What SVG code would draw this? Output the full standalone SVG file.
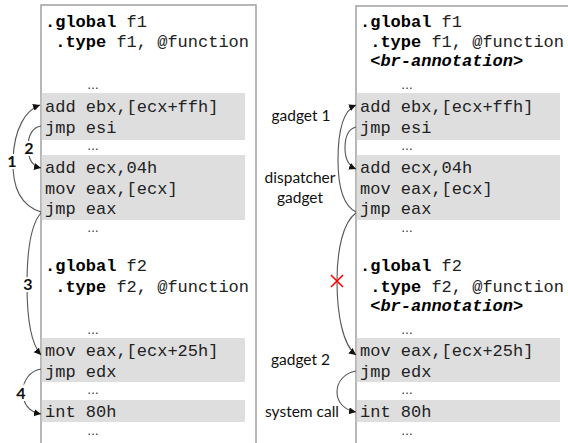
<svg xmlns="http://www.w3.org/2000/svg" width="568" height="443" viewBox="0 0 568 443">
<style>
.panel{fill:#fff;stroke:#a0a0a0;stroke-width:1.5}
.blk{fill:#dedede}
.code{font-family:"Liberation Mono","Courier New",monospace;font-size:17px;fill:#222}
.dots{font-family:"Liberation Sans",Arial,sans-serif;font-size:12px;fill:#222}
.b{font-weight:bold;fill:#000}
.bi{font-weight:bold;font-style:italic;fill:#000}
.lbl{font-family:Lato,"Open Sans","Liberation Sans",sans-serif;font-size:15.5px;fill:#111;text-anchor:middle}
.num{font-family:Lato,"Open Sans","Liberation Sans",sans-serif;font-size:16px;font-weight:bold;fill:#111;text-anchor:middle;stroke:#fff;stroke-width:4;paint-order:stroke}
.arc{fill:none;stroke:#555;stroke-width:1.1}
.x{stroke:#f00;stroke-width:1.6}
</style>
<defs>
<marker id="ah" markerUnits="userSpaceOnUse" markerWidth="8" markerHeight="8" refX="7" refY="3.5" orient="auto">
<path d="M0,0 L7,3.5 L0,7 z" fill="#111"/>
</marker>
</defs>

<g id="left-panel">
<rect class="panel" x="41" y="5" width="215" height="460"/>
<rect class="blk" x="41.75" y="93" width="203.25" height="47"/>
<rect class="blk" x="41.75" y="155" width="203.25" height="65"/>
<rect class="blk" x="41.75" y="338" width="203.25" height="44"/>
<rect class="blk" x="41.75" y="400" width="203.25" height="22"/>
<text class="code" x="45" y="27"><tspan class="b">.global</tspan> f1</text>
<text class="code" x="55.2" y="47"><tspan class="b">.type</tspan> f1, @function</text>
<text class="dots" x="87" y="89">…</text>
<text class="code" x="45" y="112">add ebx,[ecx+ffh]</text>
<text class="code" x="45" y="133">jmp esi</text>
<text class="dots" x="87" y="150">…</text>
<text class="code" x="45" y="173">add ecx,04h</text>
<text class="code" x="45" y="194">mov eax,[ecx]</text>
<text class="code" x="45" y="214">jmp eax</text>
<text class="dots" x="87" y="232">…</text>
<text class="code" x="45" y="271"><tspan class="b">.global</tspan> f2</text>
<text class="code" x="55.2" y="292"><tspan class="b">.type</tspan> f2, @function</text>
<text class="dots" x="87" y="334">…</text>
<text class="code" x="45" y="356">mov eax,[ecx+25h]</text>
<text class="code" x="45" y="377">jmp edx</text>
<text class="dots" x="87" y="394">…</text>
<text class="code" x="45" y="417">int 80h</text>
<text class="dots" x="87" y="435">…</text>
</g>

<g id="right-panel">
<rect class="panel" x="356" y="6" width="230" height="460"/>
<rect class="blk" x="356.75" y="93" width="203.25" height="47"/>
<rect class="blk" x="356.75" y="155" width="203.25" height="65"/>
<rect class="blk" x="356.75" y="338" width="203.25" height="44"/>
<rect class="blk" x="356.75" y="400" width="203.25" height="22"/>
<text class="code" x="360" y="27"><tspan class="b">.global</tspan> f1</text>
<text class="code" x="370.2" y="47"><tspan class="b">.type</tspan> f1, @function</text>
<text class="code bi" x="370.2" y="66">&lt;br-annotation&gt;</text>
<text class="dots" x="401" y="89">…</text>
<text class="code" x="360" y="112">add ebx,[ecx+ffh]</text>
<text class="code" x="360" y="133">jmp esi</text>
<text class="dots" x="401" y="150">…</text>
<text class="code" x="360" y="173">add ecx,04h</text>
<text class="code" x="360" y="194">mov eax,[ecx]</text>
<text class="code" x="360" y="214">jmp eax</text>
<text class="dots" x="401" y="232">…</text>
<text class="code" x="360" y="271"><tspan class="b">.global</tspan> f2</text>
<text class="code" x="370.2" y="292"><tspan class="b">.type</tspan> f2, @function</text>
<text class="code bi" x="370.2" y="311">&lt;br-annotation&gt;</text>
<text class="dots" x="401" y="334">…</text>
<text class="code" x="360" y="356">mov eax,[ecx+25h]</text>
<text class="code" x="360" y="377">jmp edx</text>
<text class="dots" x="401" y="394">…</text>
<text class="code" x="360" y="417">int 80h</text>
<text class="dots" x="401" y="435">…</text>
</g>

<g id="connectors">
<path class="arc" marker-end="url(#ah)" d="M41,212 C22,206 12,190 13,160 C14,128 26,110 40,105"/>
<path class="arc" marker-end="url(#ah)" d="M41,126 C33,127 28,135 28,147 C28,158 32,166 41,168"/>
<path class="arc" marker-end="url(#ah)" d="M41,213 C30,225 27,255 27,285 C27,320 32,345 41,355"/>
<path class="arc" marker-end="url(#ah)" d="M41,369 C30,371 23,380 23,392 C23,405 30,412 41,414"/>
<path class="arc" marker-end="url(#ah)" d="M356,212 C342,205 338,185 338,160 C338,130 344,110 356,105"/>
<path class="arc" marker-end="url(#ah)" d="M356,127 C348,129 345,138 345,148 C345,158 349,166 356,169"/>
<path class="arc" marker-end="url(#ah)" d="M356,213 C343,222 337,250 337,281 C337,315 343,345 356,355"/>
<path class="arc" marker-end="url(#ah)" d="M356,371 C344,373 337,382 337,392 C337,402 344,410 356,412"/>
<text class="num" x="12" y="167">1</text>
<text class="num" x="29" y="154">2</text>
<text class="num" x="28" y="290">3</text>
<text class="num" x="21" y="399">4</text>
<line class="x" x1="331" y1="275" x2="343" y2="287"/>
<line class="x" x1="343" y1="275" x2="331" y2="287"/>
</g>

<g id="labels">
<text class="lbl" x="301" y="121">gadget 1</text>
<text class="lbl" x="300" y="183">dispatcher</text>
<text class="lbl" x="300" y="203">gadget</text>
<text class="lbl" x="300.5" y="365">gadget 2</text>
<text class="lbl" x="302" y="417">system call</text>
</g>
</svg>
